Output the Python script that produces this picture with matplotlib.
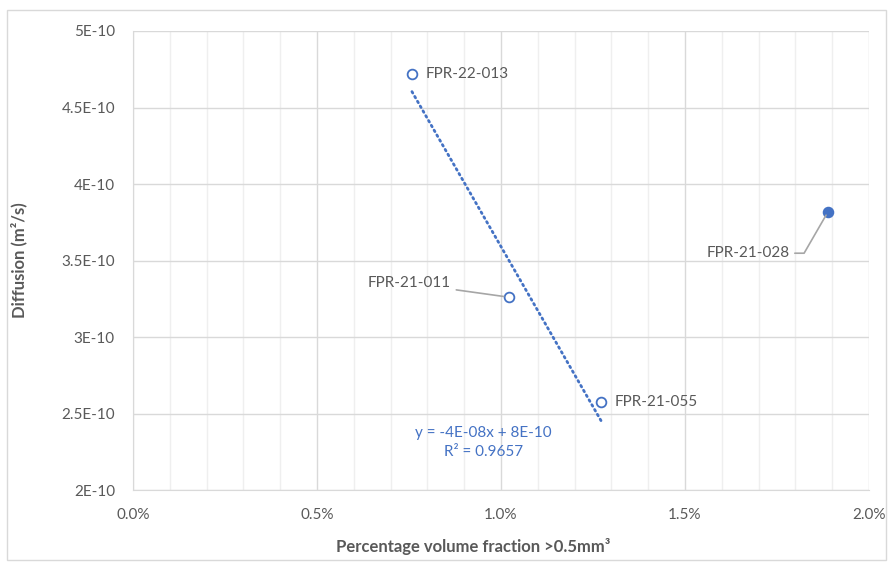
import numpy as np
import matplotlib
matplotlib.use("Agg")
import matplotlib.pyplot as plt
from matplotlib.ticker import FuncFormatter, MultipleLocator
from matplotlib.patches import Rectangle

# data
names = ["FPR-22-013", "FPR-21-011", "FPR-21-055", "FPR-21-028"]
frac = [0.00758, 0.01022, 0.01272, 0.01889]
diff = [4.72e-10, 3.26e-10, 2.575e-10, 3.82e-10]
filled = [False, False, False, True]
trend_label = "y = -4E-08x + 8E-10\nR² = 0.9657"

blue = "#4472C4"
grey_txt = "#595959"
plt.rcParams["font.family"] = ["Lato", "DejaVu Sans"]

fig = plt.figure(figsize=(8.93, 5.69), dpi=100)
ax = fig.add_axes([133/893, 1-490/569, (869-133)/893, (490-31)/569])

# outer chart border
fig.patches.append(Rectangle((7/893, 9/569), 879/893, 550/569, transform=fig.transFigure,
                             fill=False, edgecolor="#d9d9d9", lw=1))

ax.set_xlim(0, 0.02)
ax.set_ylim(2e-10, 5e-10)
ax.xaxis.set_major_locator(MultipleLocator(0.005))
ax.xaxis.set_minor_locator(MultipleLocator(0.001))
ax.yaxis.set_major_locator(MultipleLocator(0.5e-10))
ax.xaxis.set_major_formatter(FuncFormatter(lambda v, p: f"{v*100:.1f}%"))

def sci(v, p):
    mant, ex = f"{v:.1E}".replace(".0E", "E").split("E")
    return f"{mant}E{int(ex)}"
ax.yaxis.set_major_formatter(FuncFormatter(sci))

ax.grid(which="major", color="#d9d9d9", lw=1)
ax.grid(which="minor", axis="x", color="#efefef", lw=1)
ax.set_axisbelow(True)
for s in ["top", "right"]:
    ax.spines[s].set_visible(False)
ax.spines["left"].set_color("#d9d9d9")
ax.spines["bottom"].set_color("#d9d9d9")
ax.tick_params(which="both", length=0, labelsize=11, colors=grey_txt)
ax.tick_params(axis="x", pad=13)
ax.tick_params(axis="y", pad=13)

# trendline over the first three samples
fx = np.array(frac[:3])
fy = np.array(diff[:3])
k, b = np.polyfit(fx, fy, 1)
tx = np.array([fx.min(), fx.max()])
ax.plot(tx, k*tx + b, color=blue, lw=2, ls=(0, (0.6, 1.4)), dash_capstyle="round", zorder=2)

for x, y, f in zip(frac, diff, filled):
    ax.plot(x, y, "o", ms=7, mec=blue, mfc=blue if f else "white", mew=1.3, zorder=3)

lbl = dict(fontsize=11, color=grey_txt, va="center")
ax.annotate(names[0], (frac[0], diff[0]), xytext=(10, 0), textcoords="offset points", ha="left", **lbl)
ax.annotate(names[2], (frac[2], diff[2]), xytext=(10, 0), textcoords="offset points", ha="left", **lbl)
ax.annotate(names[1], (frac[1], diff[1]), xytext=(-42, 10), textcoords="offset points", ha="right",
            arrowprops=dict(arrowstyle="-", color="#a6a6a6", lw=1.2, shrinkA=2, shrinkB=4), **lbl)
ax.annotate(names[3], (frac[3], diff[3]), xytext=(-28, -30), textcoords="offset points", ha="right",
            arrowprops=dict(arrowstyle="-", color="#a6a6a6", lw=1.2, shrinkA=2, shrinkB=3,
                            connectionstyle="angle,angleA=0,angleB=60,rad=0"), **lbl)

ax.text(0.00952, 2.42e-10, trend_label, color=blue, fontsize=11, ha="center", va="top", linespacing=1.45)

ax.set_xlabel("Percentage volume fraction >0.5mm³", fontsize=12, fontweight="bold", color=grey_txt)
ax.xaxis.set_label_coords(0.462, -0.105)
ax.set_ylabel("Diffusion (m²/s)", fontsize=12, fontweight="bold", color=grey_txt)
ax.yaxis.set_label_coords(-0.143, 0.5)

fig.savefig("out.png", dpi=100)
